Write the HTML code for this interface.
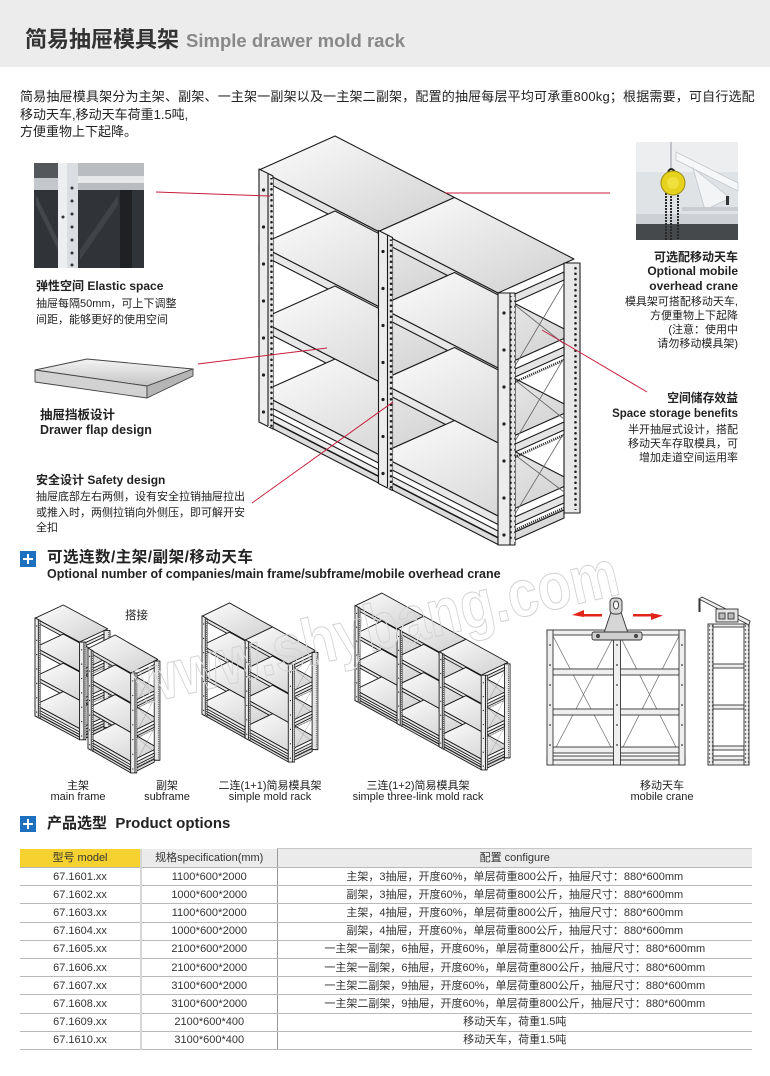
<!DOCTYPE html>
<html><head><meta charset="utf-8">
<style>
body{margin:0;background:#fff;}
#pg{position:relative;width:770px;height:1076px;overflow:hidden;background:#fff;font-family:"Liberation Sans","Noto Sans CJK SC",sans-serif;color:#222;}
.t{position:absolute;white-space:nowrap;}
.b{font-weight:bold;}
.r{text-align:right;}
.c{text-align:center;}
table.p{position:absolute;left:20px;top:848px;width:732px;border-collapse:collapse;table-layout:fixed;font-size:11px;color:#333;}
table.p td{padding:0;text-align:center;line-height:14px;border-bottom:1px solid #b8b8b8;white-space:nowrap;overflow:hidden;}
table.p tr{height:18.2px;}
table.p td:nth-child(2){border-left:2px solid #d6d6d6;}
table.p td:nth-child(3){border-left:1px solid #999;}
</style></head><body><div id="pg">
<div style="position:absolute;left:0;top:0;width:770px;height:67px;background:#ececec"></div>

<svg width="770" height="1076" style="position:absolute;left:0;top:0" xmlns="http://www.w3.org/2000/svg">
<defs>
 <linearGradient id="gs" x1="0" y1="0" x2="1" y2="1">
  <stop offset="0" stop-color="#fdfdfd"/><stop offset="0.5" stop-color="#e6e6e6"/><stop offset="1" stop-color="#cfcfcf"/>
 </linearGradient>
 <linearGradient id="gt" x1="0" y1="0" x2="0" y2="1">
  <stop offset="0" stop-color="#f4f4f4"/><stop offset="1" stop-color="#c4c4c4"/>
 </linearGradient>
 <pattern id="hp" width="5" height="5.5" patternUnits="userSpaceOnUse">
  <rect width="5" height="5.5" fill="#e4e4e4"/><circle cx="2.5" cy="2.75" r="1.3" fill="#222"/>
 </pattern>
 <pattern id="hs" width="3" height="4" patternUnits="userSpaceOnUse">
  <rect width="3" height="4" fill="#eee"/><circle cx="1.5" cy="2" r=".7" fill="#333"/>
 </pattern>

 <g id="bay" stroke-linejoin="round">
  <rect x="76" y="-29" width="8" height="245" fill="#dedede"/>
  <g stroke="#333" stroke-width="2.5" stroke-dasharray="1.2 1" fill="none">
   <line x1="14" y1="88" x2="76" y2="60"/>
   <line x1="14" y1="163" x2="76" y2="135"/>
   <line x1="14" y1="236" x2="76" y2="208"/>
  </g>
  <polygon points="0,0 76,-34 195.5,27.5 119.5,61.5" fill="url(#gs)"/>
  <polygon points="0,0 119.5,61.5 119.5,70 0,8.5" fill="#e4e4e4"/>
  <polygon points="0,75 76,41 195.5,102.5 119.5,136.5" fill="url(#gs)"/>
  <polygon points="0,75 119.5,136.5 119.5,145 0,83.5" fill="#e8e8e8"/>
  <polygon points="0,150 76,116 195.5,177.5 119.5,211.5" fill="url(#gs)"/>
  <polygon points="0,150 119.5,211.5 119.5,220 0,158.5" fill="#e8e8e8"/>
  <polygon points="0,223 76,189 195.5,250.5 119.5,284.5" fill="url(#gs)"/>
  <polygon points="0,223 119.5,284.5 119.5,293 0,231.5" fill="#e8e8e8"/>
  <polygon points="0,238 119.5,299.5 119.5,306 0,244.5" fill="#ececec"/>
  <polygon points="0,245 119.5,306.5 119.5,313 0,251.5" fill="#dcdcdc"/>
  <polygon points="0,-1 14,6 14,259 0,252" fill="#ececec"/>
  <rect x="9" y="8" width="5" height="249" fill="url(#hp)" stroke="none"/>
  <line x1="9" y1="4" x2="9" y2="256"/>
  <g fill="#222" stroke="none">
   <circle cx="4.5" cy="20" r="1.6"/><circle cx="4.5" cy="57" r="1.6"/><circle cx="4.5" cy="94" r="1.6"/>
   <circle cx="4.5" cy="131" r="1.6"/><circle cx="4.5" cy="168" r="1.6"/><circle cx="4.5" cy="205" r="1.6"/>
   <circle cx="4.5" cy="242" r="1.6"/>
  </g>
 </g>

 <g id="endf" stroke-linejoin="round">
  <rect x="66" y="-30" width="16" height="250" fill="#e8e8e8"/>
  <rect x="76" y="-27" width="5" height="244" fill="url(#hp)" stroke="none"/>
  <g stroke="#666" stroke-width=".8" fill="none">
   <line x1="17" y1="12" x2="66" y2="51"/><line x1="17" y1="73" x2="66" y2="-10"/>
   <line x1="17" y1="87" x2="66" y2="126"/><line x1="17" y1="148" x2="66" y2="65"/>
   <line x1="17" y1="162" x2="66" y2="199"/><line x1="17" y1="221" x2="66" y2="140"/>
  </g>
  <g stroke="#333" stroke-width="2.5" stroke-dasharray="1.2 1" fill="none">
   <line x1="17" y1="89" x2="66" y2="67"/>
   <line x1="17" y1="164" x2="66" y2="142"/>
   <line x1="17" y1="237" x2="66" y2="215"/>
  </g>
  <polygon points="17,1 66,-21 66,-13 17,9" fill="#e4e4e4"/>
  <polygon points="17,76 66,54 66,62 17,84" fill="#e4e4e4"/>
  <polygon points="17,151 66,129 66,137 17,159" fill="#e4e4e4"/>
  <polygon points="17,224 66,202 66,210 17,232" fill="#e4e4e4"/>
  <polygon points="17,239 66,217 66,225 17,247" fill="#dadada"/>
  <rect x="0" y="0" width="17" height="252" fill="#ececec"/>
  <rect x="12" y="3" width="5" height="246" fill="url(#hp)" stroke="none"/>
  <line x1="12" y1="0" x2="12" y2="252"/>
  <g fill="#222" stroke="none">
   <circle cx="6" cy="20" r="1.6"/><circle cx="6" cy="57" r="1.6"/><circle cx="6" cy="94" r="1.6"/>
   <circle cx="6" cy="131" r="1.6"/><circle cx="6" cy="168" r="1.6"/><circle cx="6" cy="205" r="1.6"/>
   <circle cx="6" cy="242" r="1.6"/>
  </g>
 </g>

 <g id="rack1"><use href="#bay"/><use href="#endf" x="119.5" y="61.5"/></g>
 <g id="rack2"><use href="#bay"/><use href="#bay" x="119.5" y="61.5"/><use href="#endf" x="239" y="123"/></g>
 <g id="rack3"><use href="#bay"/><use href="#bay" x="119.5" y="61.5"/><use href="#bay" x="239" y="123"/><use href="#endf" x="358.5" y="184.5"/></g>
</defs>

<!-- left photo -->
<g>
 <rect x="34" y="163" width="110" height="105" fill="#303337"/>
 <rect x="34" y="163" width="24" height="15" fill="#54575b"/>
 <rect x="34" y="178" width="24" height="12" fill="#c4c8cc"/>
 <rect x="77" y="163" width="67" height="27" fill="#b9bdc1"/>
 <rect x="77" y="176" width="67" height="7" fill="#e6e8ea"/>
 <polygon points="36,195 58,240 58,250 36,205" fill="#44474b"/>
 <polygon points="80,250 118,195 118,205 80,260" fill="#404347"/>
 <rect x="120" y="190" width="12" height="78" fill="#1e2023"/>
 <rect x="58" y="163" width="20" height="105" fill="#eceef0"/>
 <rect x="67" y="163" width="11" height="105" fill="#dadde1"/>
 <g fill="#333"><circle cx="72" cy="188" r="1.5"/><circle cx="72" cy="201" r="1.5"/><circle cx="72" cy="214" r="1.5"/><circle cx="72" cy="227" r="1.5"/><circle cx="72" cy="240" r="1.5"/><circle cx="72" cy="253" r="1.5"/><circle cx="72" cy="265" r="1.5"/><circle cx="63" cy="217" r="1.5"/></g>
</g>

<!-- crane photo -->
<g>
 <rect x="636" y="142" width="102" height="98" fill="#e0e3e6"/>
 <rect x="636" y="142" width="102" height="30" fill="#eceef0"/>
 <line x1="671" y1="142" x2="671" y2="170" stroke="#b0b4b8" stroke-width="1.5"/>
 <polygon points="676,152 738,183 738,191 676,160" fill="#f6f7f8" stroke="#c4c8cc" stroke-width=".8"/>
 <polygon points="693,168 705,210 730,198" fill="#f3f4f5" stroke="#c4c8cc" stroke-width=".8"/>
 <rect x="682" y="207" width="56" height="4" fill="#c9cdd1"/>
 <rect x="726" y="196" width="3" height="9" fill="#333"/>
 <rect x="636" y="214" width="102" height="10" fill="#cdd1d5"/>
 <rect x="636" y="224" width="102" height="16" fill="#46494c"/>
 <g stroke="#2a2a2a" stroke-width="2" stroke-dasharray="2 1"><line x1="666" y1="190" x2="666" y2="240"/><line x1="671" y1="190" x2="671" y2="240"/><line x1="678" y1="192" x2="678" y2="240"/></g>
 <path d="M668,172 q3,-6 7,0" fill="none" stroke="#222" stroke-width="2"/>
 <circle cx="673" cy="183" r="12" fill="#e6d11c" stroke="#9d8c12"/>
 <circle cx="673" cy="183" r="6" fill="#f0df3c"/>
</g>

<!-- drawer tray -->
<g stroke="#444" stroke-width=".9" stroke-linejoin="round">
 <polygon points="35,370 87,359 193,369 147,386" fill="url(#gt)"/>
 <polygon points="35,370 147,386 147,398 35,382" fill="#d2d2d2"/>
 <polygon points="147,386 193,369 193,376 147,398" fill="#b5b5b5"/>
</g>

<!-- main rack -->
<use href="#rack2" transform="translate(259,170)" stroke="#1a1a1a" stroke-width="1.1"/>

<!-- callout lines -->
<g stroke="#c81e3c" stroke-width="1">
 <line x1="156" y1="192" x2="270" y2="196"/>
 <line x1="198" y1="364" x2="327" y2="348"/>
 <line x1="252" y1="503" x2="393" y2="402"/>
 <line x1="445" y1="193" x2="610" y2="193"/>
 <line x1="542" y1="330" x2="647" y2="392"/>
</g>

<!-- section icons -->
<rect x="20" y="551" width="16" height="16" fill="#1d6fc0"/>
<path d="M28,554 V564 M23,559 H33" stroke="#fff" stroke-width="2"/>
<rect x="20" y="816" width="16" height="16" fill="#1d6fc0"/>
<path d="M28,819 V829 M23,824 H33" stroke="#fff" stroke-width="2"/>

<!-- thumbnails -->
<use href="#rack1" transform="translate(35,618.2) scale(0.372,0.388)" stroke="#1a1a1a" stroke-width="2.4"/>
<use href="#rack1" transform="translate(88,648.5) scale(0.357,0.397)" stroke="#1a1a1a" stroke-width="2.4"/>
<use href="#rack2" transform="translate(202,616.2) scale(0.361,0.389)" stroke="#1a1a1a" stroke-width="2.4"/>
<use href="#rack3" transform="translate(355,605.8) scale(0.352,0.376)" stroke="#1a1a1a" stroke-width="2.5"/>

<!-- crane front view -->
<g stroke="#333" stroke-width=".9" fill="#efefef">
 <g stroke="#777" stroke-width=".8">
  <line x1="553" y1="636" x2="614" y2="753"/><line x1="614" y1="636" x2="553" y2="753"/>
  <line x1="620" y1="636" x2="679" y2="753"/><line x1="679" y1="636" x2="620" y2="753"/>
 </g>
 <rect x="553" y="669" width="61" height="6"/><rect x="620" y="669" width="59" height="6"/>
 <rect x="553" y="709" width="61" height="6"/><rect x="620" y="709" width="59" height="6"/>
 <rect x="553" y="747" width="61" height="6"/><rect x="620" y="747" width="59" height="6"/>
 <rect x="547" y="756" width="138" height="4"/><rect x="547" y="760" width="138" height="5"/>
 <rect x="547" y="630" width="138" height="5"/>
 <rect x="547" y="630" width="6" height="135"/><rect x="613.5" y="630" width="7" height="135"/><rect x="679" y="630" width="6" height="135"/>
 <g fill="#333" stroke="none">
  <circle cx="550" cy="645" r=".9"/><circle cx="550" cy="665" r=".9"/><circle cx="550" cy="685" r=".9"/><circle cx="550" cy="705" r=".9"/><circle cx="550" cy="725" r=".9"/><circle cx="550" cy="745" r=".9"/>
  <circle cx="682" cy="645" r=".9"/><circle cx="682" cy="665" r=".9"/><circle cx="682" cy="685" r=".9"/><circle cx="682" cy="705" r=".9"/><circle cx="682" cy="725" r=".9"/><circle cx="682" cy="745" r=".9"/>
  <circle cx="617" cy="645" r=".9"/><circle cx="617" cy="665" r=".9"/><circle cx="617" cy="685" r=".9"/><circle cx="617" cy="705" r=".9"/><circle cx="617" cy="725" r=".9"/><circle cx="617" cy="745" r=".9"/>
 </g>
 <path d="M604,633 L611,612 L621,612 L628,633 Z" fill="#d6d6d6"/>
 <rect x="610" y="598" width="12" height="16" rx="4" fill="#d6d6d6"/>
 <ellipse cx="616" cy="605" rx="2.5" ry="4" fill="#fff"/>
 <rect x="592" y="632" width="50" height="8" rx="2" fill="#cfcfcf"/>
 <circle cx="598" cy="636" r="1.5" fill="#555"/><circle cx="636" cy="636" r="1.5" fill="#555"/>
</g>
<g fill="#e1251b">
 <rect x="580" y="614" width="22" height="2.5"/>
 <polygon points="572,615 584,610 584,617"/>
 <rect x="633" y="614" width="22" height="2.5"/>
 <polygon points="663,615.5 651,613 651,620"/>
</g>

<!-- crane side view -->
<g stroke="#333" stroke-width=".9" fill="#efefef">
 <rect x="713" y="664" width="31" height="4"/><rect x="713" y="705" width="31" height="4"/><rect x="713" y="746" width="31" height="4"/>
 <rect x="708" y="756" width="41" height="4"/><rect x="708" y="760" width="41" height="5"/>
 <rect x="708" y="624" width="41" height="3"/>
 <rect x="708" y="624" width="5" height="141" fill="url(#hs)"/>
 <rect x="744" y="624" width="5" height="141" fill="url(#hs)"/>
 <polygon points="699,599 702,597 750,621 749,625"/>
 <line x1="699.5" y1="599" x2="699.5" y2="612" stroke-width="2"/>
 <rect x="716" y="609" width="22" height="13" fill="#e4e4e4"/>
 <rect x="719" y="613" width="6" height="6" fill="#bbb"/><rect x="728" y="613" width="6" height="6" fill="#bbb"/>
</g>

<!-- watermark -->
<text x="140" y="705" transform="rotate(-13 140 705)" font-family="Liberation Sans, sans-serif" font-size="66" font-weight="bold" fill="none" stroke="#d2d2d2" stroke-width="1" textLength="495" lengthAdjust="spacingAndGlyphs">www.shybang.com</text>
</svg>

<!-- header -->
<div class="t b" style="left:25px;top:27px;font-size:22px;line-height:26px;color:#333">简易抽屉模具架<span style="font-size:18.5px;color:#888;margin-left:7px">Simple drawer mold rack</span></div>

<div class="t" style="left:20px;top:88px;font-size:13px;line-height:17.5px;color:#222"><span style="letter-spacing:.18px">简易抽屉模具架分为主架、副架、一主架一副架以及一主架二副架，配置的抽屉每层平均可承重800kg；根据需要，可自行选配</span><br>移动天车,移动天车荷重1.5吨,<br>方便重物上下起降。</div>

<!-- left callouts -->
<div class="t b" style="left:36px;top:279px;font-size:12px;line-height:14px">弹性空间 Elastic space</div>
<div class="t" style="left:36px;top:296px;font-size:11px;line-height:16px">抽屉每隔50mm，可上下调整<br>间距，能够更好的使用空间</div>
<div class="t b" style="left:40px;top:407.5px;font-size:12.5px;line-height:15px">抽屉挡板设计<br>Drawer flap design</div>
<div class="t b" style="left:36px;top:473px;font-size:12px;line-height:14px">安全设计 Safety design</div>
<div class="t" style="left:36px;top:490px;font-size:11px;line-height:15.5px">抽屉底部左右两侧，设有安全拉销抽屉拉出<br>或推入时，两侧拉销向外侧压，即可解开安<br>全扣</div>

<!-- right callouts -->
<div class="t b r" style="right:32px;top:249.8px;font-size:12px;line-height:14.4px">可选配移动天车<br>Optional mobile<br>overhead crane</div>
<div class="t r" style="right:32px;top:294.5px;font-size:11px;line-height:14.2px">模具架可搭配移动天车,<br>方便重物上下起降<br>(注意：使用中<br>请勿移动模具架)</div>
<div class="t b r" style="right:32px;top:390.8px;font-size:11.8px;line-height:15px">空间储存效益<br><span style="font-size:11.5px">Space storage benefits</span></div>
<div class="t r" style="right:32px;top:423px;font-size:11px;line-height:14.2px">半开抽屉式设计，搭配<br>移动天车存取模具，可<br>增加走道空间运用率</div>

<!-- section 2 -->
<div class="t b" style="left:47px;top:548px;font-size:15.5px;line-height:20px;letter-spacing:.5px">可选连数/主架/副架/移动天车</div>
<div class="t b" style="left:47px;top:567px;font-size:12.5px;line-height:15px">Optional number of companies/main frame/subframe/mobile overhead crane</div>
<div class="t" style="left:125px;top:609px;font-size:11.5px;line-height:14px">搭接</div>

<div class="t c" style="left:38px;width:80px;top:781px;font-size:11px;line-height:11px">主架<br>main frame</div>
<div class="t c" style="left:127px;width:80px;top:781px;font-size:11px;line-height:11px">副架<br>subframe</div>
<div class="t c" style="left:200px;width:140px;top:781px;font-size:11px;line-height:11px">二连(1+1)简易模具架<br>simple mold rack</div>
<div class="t c" style="left:328px;width:180px;top:781px;font-size:11px;line-height:11px">三连(1+2)简易模具架<br>simple three-link mold rack</div>
<div class="t c" style="left:612px;width:100px;top:781px;font-size:11px;line-height:11px">移动天车<br>mobile crane</div>

<!-- section 3 -->
<div class="t b" style="left:47px;top:814px;font-size:15px;line-height:20px">产品选型&nbsp; Product options</div>

<table class="p">
<colgroup><col style="width:121px"><col style="width:136px"><col style="width:475px"></colgroup>
<tr style="height:19px"><td style="background:#f5d22f">型号 model</td><td style="background:#ebebeb">规格specification(mm)</td><td style="background:#ebebeb;border-top:1px solid #c8c8c8">配置 configure</td></tr>
<tr><td>67.1601.xx</td><td>1100*600*2000</td><td>主架，3抽屉，开度60%，单层荷重800公斤，抽屉尺寸：880*600mm</td></tr>
<tr><td>67.1602.xx</td><td>1000*600*2000</td><td>副架，3抽屉，开度60%，单层荷重800公斤，抽屉尺寸：880*600mm</td></tr>
<tr><td>67.1603.xx</td><td>1100*600*2000</td><td>主架，4抽屉，开度60%，单层荷重800公斤，抽屉尺寸：880*600mm</td></tr>
<tr><td>67.1604.xx</td><td>1000*600*2000</td><td>副架，4抽屉，开度60%，单层荷重800公斤，抽屉尺寸：880*600mm</td></tr>
<tr><td>67.1605.xx</td><td>2100*600*2000</td><td>一主架一副架，6抽屉，开度60%，单层荷重800公斤，抽屉尺寸：880*600mm</td></tr>
<tr><td>67.1606.xx</td><td>2100*600*2000</td><td>一主架一副架，6抽屉，开度60%，单层荷重800公斤，抽屉尺寸：880*600mm</td></tr>
<tr><td>67.1607.xx</td><td>3100*600*2000</td><td>一主架二副架，9抽屉，开度60%，单层荷重800公斤，抽屉尺寸：880*600mm</td></tr>
<tr><td>67.1608.xx</td><td>3100*600*2000</td><td>一主架二副架，9抽屉，开度60%，单层荷重800公斤，抽屉尺寸：880*600mm</td></tr>
<tr><td>67.1609.xx</td><td>2100*600*400</td><td>移动天车，荷重1.5吨</td></tr>
<tr><td>67.1610.xx</td><td>3100*600*400</td><td>移动天车，荷重1.5吨</td></tr>
</table>
</div></body></html>
